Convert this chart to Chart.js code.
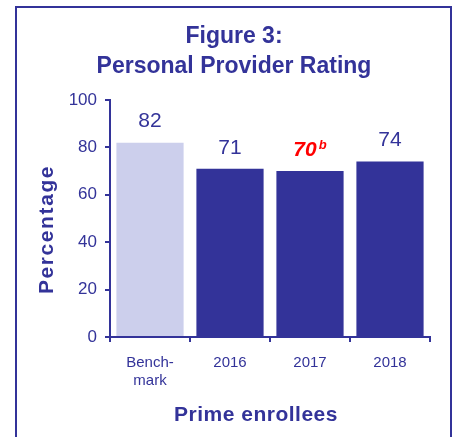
<!DOCTYPE html>
<html><head><meta charset="utf-8">
<script src="https://cdn.jsdelivr.net/npm/chart.js@4"></script>
<style>html,body{margin:0;padding:0;background:#fff}canvas{display:block}</style>
</head><body>
<canvas id="c" width="456" height="437"></canvas>
<script>
// ---- data ----
const categories = [['Bench-', 'mark'], '2016', '2017', '2018'];
const values = [82, 71, 70, 74];
const valueLabels = ['82', '71', '70', '74'];
const labelSuperscripts = ['', '', 'b', ''];
const highlighted = [false, false, true, false];
const yTicks = [0, 20, 40, 60, 80, 100];
const titleLines = ['Figure 3:', 'Personal Provider Rating'];
const xTitle = 'Prime enrollees';
const yTitle = 'Percentage';

// ---- style ----
const NAVY = '#333399';
const LIGHT = '#CCCFEC';
const FONT = "'Liberation Sans', Arial, sans-serif";
const barColors = values.map((v, i) => i === 0 ? LIGHT : NAVY);

const framePlugin = {
  id: 'frame',
  beforeDraw(chart) {
    const ctx = chart.ctx;
    ctx.save();
    ctx.strokeStyle = NAVY;
    ctx.lineWidth = 2;
    ctx.strokeRect(16, 7, 435, 445);
    ctx.restore();
  }
};

const valueLabelPlugin = {
  id: 'valueLabels',
  afterDatasetsDraw(chart) {
    const ctx = chart.ctx;
    const meta = chart.getDatasetMeta(0);
    ctx.save();
    ctx.textBaseline = 'middle';
    meta.data.forEach((el, i) => {
      const y = el.y - 21;
      if (highlighted[i]) {
        const mainFont = 'italic bold 21px ' + FONT;
        const supFont = 'italic bold 13px ' + FONT;
        ctx.font = mainFont;
        const w1 = ctx.measureText(valueLabels[i]).width;
        ctx.font = supFont;
        const w2 = ctx.measureText(labelSuperscripts[i]).width;
        const start = el.x - (w1 + 2 + w2) / 2;
        ctx.fillStyle = '#FF0000';
        ctx.textAlign = 'left';
        ctx.font = mainFont;
        ctx.fillText(valueLabels[i], start, y);
        ctx.font = supFont;
        ctx.fillText(labelSuperscripts[i], start + w1 + 2, y - 5);
      } else {
        ctx.fillStyle = NAVY;
        ctx.textAlign = 'center';
        ctx.font = '21px ' + FONT;
        ctx.fillText(valueLabels[i] + labelSuperscripts[i], el.x, y);
      }
    });
    ctx.restore();
  }
};

const axisTitlePlugin = {
  id: 'axisTitles',
  afterDraw(chart) {
    const ctx = chart.ctx;
    const a = chart.chartArea;
    ctx.save();
    ctx.fillStyle = NAVY;
    ctx.font = 'bold 21px ' + FONT;
    ctx.textAlign = 'center';
    ctx.textBaseline = 'middle';
    try { ctx.letterSpacing = '0.5px'; } catch (e) {}
    ctx.fillText(xTitle, (a.left + a.right) / 2 - 14, a.bottom + 78);
    try { ctx.letterSpacing = '1.6px'; } catch (e) {}
    ctx.translate(47, (a.top + a.bottom) / 2 + 11);
    ctx.rotate(-Math.PI / 2);
    ctx.fillText(yTitle, 0, 0);
    ctx.restore();
  }
};

new Chart(document.getElementById('c'), {
  type: 'bar',
  data: {
    labels: categories,
    datasets: [{
      data: values,
      backgroundColor: barColors,
      borderWidth: 0,
      barPercentage: 0.84,
      categoryPercentage: 1.0
    }]
  },
  options: {
    responsive: false,
    animation: false,
    devicePixelRatio: 1,
    layout: { padding: { left: 38, right: 26, top: 0, bottom: 0 } },
    plugins: {
      legend: { display: false },
      tooltip: { enabled: false },
      title: {
        display: true,
        text: titleLines,
        color: NAVY,
        font: { family: FONT, size: 23, weight: 'bold', lineHeight: 30 / 23 },
        padding: { top: 22, bottom: 18 }
      }
    },
    scales: {
      x: {
        afterFit(s) { s.height = 100; },
        grid: {
          display: true, drawOnChartArea: false, drawTicks: true,
          tickLength: 5, color: NAVY, lineWidth: 2, offset: true
        },
        border: { display: true, color: NAVY, width: 2 },
        ticks: {
          color: NAVY, padding: 11,
          font: { family: FONT, size: 15, lineHeight: 1.25 },
          maxRotation: 0, autoSkip: false
        }
      },
      y: {
        min: 0, max: 100,
        afterFit(s) { s.width = 72; },
        afterBuildTicks(s) { s.ticks = yTicks.map(v => ({ value: v })); },
        grid: {
          display: true, drawOnChartArea: false, drawTicks: true,
          tickLength: 5, color: NAVY, lineWidth: 2
        },
        border: { display: true, color: NAVY, width: 2 },
        ticks: {
          color: NAVY, padding: 8,
          font: { family: FONT, size: 17 }
        }
      }
    }
  },
  plugins: [framePlugin, valueLabelPlugin, axisTitlePlugin]
});
</script>
</body></html>
